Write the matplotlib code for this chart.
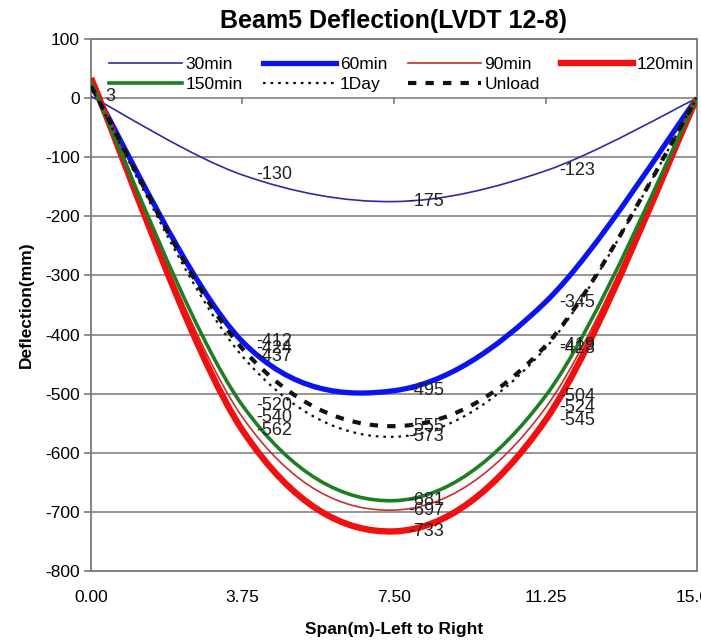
import matplotlib
matplotlib.use("Agg")
import matplotlib.pyplot as plt
from matplotlib.path import Path
from matplotlib.patches import PathPatch
from matplotlib.lines import Line2D

# ---- data -------------------------------------------------------------
span = [0.0, 3.75, 7.5, 11.25, 15.0]
series_names = ["30min", "60min", "90min", "120min", "150min", "1Day", "Unload"]
d_30min = [3, -130, -175, -123, 0]
d_60min = [22, -412, -495, -345, 0]
d_90min = [30, -540, -697, -524, 0]
d_120min = [34, -562, -733, -545, 0]
d_150min = [27, -520, -681, -504, 0]
d_1day = [18, -437, -573, -423, 0]
d_unload = [20, -424, -555, -419, 0]
series_values = [d_30min, d_60min, d_90min, d_120min, d_150min, d_1day, d_unload]

# which points carry a value label (index into span)
label_points = {
    "30min": [0, 1, 2, 3],
    "60min": [1, 2, 3],
    "90min": [1, 2, 3],
    "120min": [1, 2, 3],
    "150min": [1, 2, 3],
    "1Day": [1, 2, 3],
    "Unload": [1, 2, 3],
}

x_ticks = [0.0, 3.75, 7.5, 11.25, 15.0]
x_tick_labels = ["0.00", "3.75", "7.50", "11.25", "15.00"]
y_ticks = list(range(100, -801, -100))

styles = {
    "30min": dict(color="#2b2ba8", lw=1.2, ls="-"),
    "60min": dict(color="#0a14f0", lw=3.8, ls="-"),
    "90min": dict(color="#c8302c", lw=1.2, ls="-"),
    "120min": dict(color="#f01010", lw=4.6, ls="-"),
    "150min": dict(color="#1d7f22", lw=2.6, ls="-"),
    "1Day": dict(color="#111111", lw=1.6, ls=(0, (1.2, 2.2))),
    "Unload": dict(color="#111111", lw=3.0, ls=(0, (2.0, 2.2))),
}

plt.rcParams["font.family"] = ["Liberation Sans", "DejaVu Sans"]


def smooth_path(xs, ys):
    """Cubic Bezier path through the points (Catmull-Rom style tangents)."""
    pts = list(zip(xs, ys))
    n = len(pts)
    verts = [pts[0]]
    codes = [Path.MOVETO]
    for i in range(n - 1):
        p0 = pts[i - 1] if i > 0 else pts[i]
        p1 = pts[i]
        p2 = pts[i + 1]
        p3 = pts[i + 2] if i + 2 < n else pts[i + 1]
        c1 = (p1[0] + (p2[0] - p0[0]) / 6.0, p1[1] + (p2[1] - p0[1]) / 6.0)
        c2 = (p2[0] - (p3[0] - p1[0]) / 6.0, p2[1] - (p3[1] - p1[1]) / 6.0)
        verts += [c1, c2, p2]
        codes += [Path.CURVE4] * 3
    return Path(verts, codes)


fig = plt.figure(figsize=(7.01, 6.43), dpi=100)
ax = fig.add_axes([0.1298, 0.112, 0.8645, 0.8273])
ax.set_xlim(0, 15)
ax.set_ylim(-800, 100)

# horizontal gridlines
for yv in y_ticks:
    ax.axhline(yv, color="#8c8c8c", lw=1.3, zorder=1)

for sp in ax.spines.values():
    sp.set_color("#7a7a7a")
    sp.set_linewidth(1.3)

# category axis crosses at zero: small ticks on that line
for xv in x_ticks[1:-1]:
    ax.plot([xv, xv], [0, -9], color="#7a7a7a", lw=1.2, zorder=2, clip_on=False)

handles = {}
for name, vals in zip(series_names, series_values):
    st = styles[name]
    patch = PathPatch(smooth_path(span, vals), facecolor="none", edgecolor=st["color"],
                      lw=st["lw"], linestyle=st["ls"], zorder=3, capstyle="butt")
    ax.add_patch(patch)
    handles[name] = Line2D([], [], color=st["color"], lw=st["lw"], linestyle=st["ls"])
    for idx in label_points[name]:
        ax.annotate(f"{vals[idx]:g}", xy=(span[idx], vals[idx]), xytext=(14, 0),
                    textcoords="offset pixels", ha="left", va="center",
                    fontsize=13, color="#222222", zorder=5)

ax.set_xticks(x_ticks)
ax.set_xticklabels(x_tick_labels, fontsize=12.5)
ax.set_yticks(y_ticks)
ax.set_yticklabels([str(v) for v in y_ticks], fontsize=12.5)
ax.tick_params(axis="x", length=0, pad=14)
ax.tick_params(axis="y", length=5, width=1.2, color="#7a7a7a", pad=3)

ax.set_title("Beam5 Deflection(LVDT 12-8)", fontsize=18, fontweight="bold", pad=8)
ax.set_xlabel("Span(m)-Left to Right", fontsize=12.5, fontweight="bold", labelpad=12)
ax.set_ylabel("Deflection(mm)", fontsize=12.5, fontweight="bold", labelpad=8)

# legend filled row by row: 4 entries on the first row, 3 on the second
legend_order = ["30min", "150min", "60min", "1Day", "90min", "Unload", "120min"]
leg = ax.legend([handles[n] for n in legend_order], legend_order, ncol=4,
                loc="upper left", bbox_to_anchor=(0.018, 0.98), frameon=False,
                fontsize=12.5, handlelength=4.2, handletextpad=0.2,
                columnspacing=1.2, labelspacing=0.3, borderaxespad=0.0,
                borderpad=0.4)

fig.savefig("out.png", dpi=100)
